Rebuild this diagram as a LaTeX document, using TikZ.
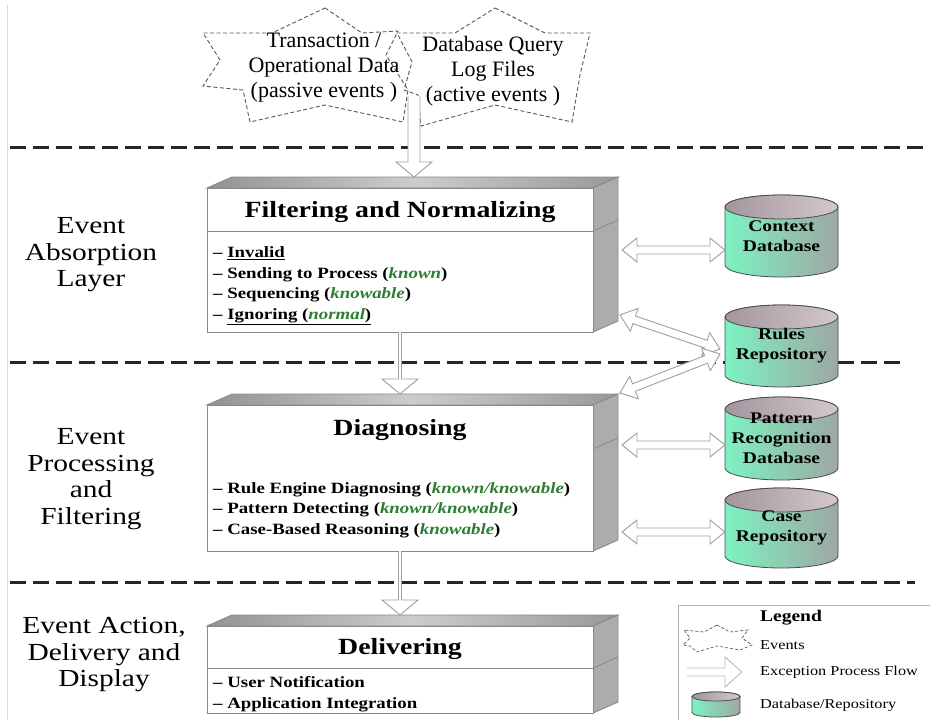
\documentclass[tikz,border=0pt]{standalone}
\usepackage{fontspec}
\setmainfont{Liberation Serif}
\newfontfamily\widefont{Liberation Serif}[FakeStretch=1.2]
\usetikzlibrary{calc,backgrounds}

\definecolor{kgreen}{HTML}{2E7D32}
\definecolor{mint}{HTML}{7EF2C2}
\definecolor{cylgray}{HTML}{9DA7A2}
\definecolor{captop}{HTML}{A4959D}
\definecolor{captop2}{HTML}{D2C8CD}
\definecolor{edgegray}{HTML}{8A8A8A}

\tikzset{
  front/.style={draw=edgegray, fill=white, line width=0.9pt, inner sep=0pt, outer sep=0pt},
  topface/.style={draw=edgegray, line width=0.9pt, left color=gray!85, right color=gray!80, middle color=gray!40},
  sideface/.style={draw=edgegray, line width=0.9pt, fill=gray!65},
  divider/.style={draw=edgegray, line width=0.9pt},
  boxtitle/.style={font=\widefont\bfseries\fontsize{23.2}{26}\selectfont},
  boxitems/.style={font=\widefont\bfseries\fontsize{15.7}{20.5}\selectfont, align=left, anchor=west, inner sep=0pt},
  layer/.style={font=\widefont\fontsize{24.5}{26.5}\selectfont, align=center},
  eventtext/.style={font=\fontsize{22}{25}\selectfont, align=center},
  dbnode/.style={minimum width=113pt, inner sep=0pt, outer sep=0pt, align=center,
    font=\widefont\bfseries\fontsize{16.3}{20}\selectfont},
  dbbody/.style={draw=black!70, line width=0.8pt, left color=mint, right color=cylgray},
  dbcap/.style={draw=black!70, line width=0.8pt, left color=captop, right color=captop2},
  sep/.style={line width=3pt, dash pattern=on 16pt off 7pt, black!85},
  flowline/.style={draw=gray!75, fill=white, line width=0.9pt, line join=miter},
  eventline/.style={draw=gray!70!black, dash pattern=on 4pt off 2.5pt, line width=0.9pt},
  legtext/.style={font=\widefont\fontsize{13.6}{16}\selectfont, anchor=west, inner sep=0pt},
}

% hollow double-headed block arrow between two named points
\newcommand\dflow[2]{%
  \coordinate (ha) at ($(#1)!15pt!(#2)$);
  \coordinate (hb) at ($(#2)!15pt!(#1)$);
  \draw[flowline] (#1) -- ($(ha)!12pt!90:(#2)$) -- ($(ha)!4pt!90:(#2)$)
    -- ($(hb)!4pt!-90:(#1)$) -- ($(hb)!12pt!-90:(#1)$) -- (#2)
    -- ($(hb)!12pt!90:(#1)$) -- ($(hb)!4pt!90:(#1)$)
    -- ($(ha)!4pt!-90:(#2)$) -- ($(ha)!12pt!-90:(#2)$) -- cycle;}

% hollow single block arrow: tail, tip, shaft half width, head half width, head length
\newcommand\sflow[5]{%
  \coordinate (hb) at ($(#2)!#5!(#1)$);
  \draw[flowline] ($(#1)!#3!90:(#2)$) -- ($(hb)!#3!-90:(#1)$) -- ($(hb)!#4!-90:(#1)$)
    -- (#2) -- ($(hb)!#4!90:(#1)$) -- ($(hb)!#3!90:(#1)$) -- ($(#1)!#3!-90:(#2)$);}

% cylinder around a node: name, x radius, y radius (numbers)
\newcommand\dbcyl[3]{%
  \path[dbbody] ($(#1.north west)+(0,#3)$) -- ($(#1.south west)+(0,-#3)$)
    arc[start angle=180, end angle=360, x radius=#2pt, y radius=#3pt]
    -- ($(#1.north east)+(0,#3)$)
    arc[start angle=0, end angle=180, x radius=#2pt, y radius=#3pt] -- cycle;
  \path[dbcap] ($(#1.north)+(0,#3)$) ellipse[x radius=#2pt, y radius=#3pt];}

% 3D faces of a box whose front face is a node
\newcommand\boxfaces[1]{%
  \path[topface] (#1.north west) -- ++(25,-11) -- ($(#1.north east)+(25,-11)$) -- (#1.north east) -- cycle;
  \path[sideface] (#1.north east) -- ++(25,-11) -- ($(#1.south east)+(25,-11)$) -- (#1.south east) -- cycle;}

\begin{document}
\begin{tikzpicture}[x=1pt, y=-1pt]
\useasboundingbox (0,0) rectangle (930,720);

% faint page rule at the left
\draw[gray!30, line width=1pt] (7,5) -- (7,720);

% ---------- events ----------
\draw[eventline] (325,8) -- (362,33) -- (398,31) -- (386,55) -- (408,90) -- (403,122)
  -- (325,105) -- (250,122) -- (243,90) -- (203,86) -- (220,60) -- (203,33) -- (272,33) -- cycle;
\draw[eventline] (495,8) -- (545,33) -- (590,33) -- (580,75) -- (572,122) -- (495,105)
  -- (421,126) -- (418,95) -- (404,90) -- (412,62) -- (397,33) -- (455,33) -- cycle;
\node[eventtext] (ev1) at (324,68) {Transaction /\\Operational Data\\(passive events )};
\node[eventtext] (ev2) at (493,71) {Database Query\\Log Files\\(active events )};

% ---------- layer names ----------
\node[layer] (L1) at (91,255) {Event\\Absorption\\Layer};
\node[layer] (L2) at (91,479) {Event\\Processing\\and\\Filtering};
\node[layer] (L3) at (104,655) {Event Action,\\Delivery and\\Display};

% ---------- process boxes (front faces) ----------
\node[front, minimum width=386pt, minimum height=144pt] (filt) at (400,260) {};
\node[front, minimum width=386pt, minimum height=146pt] (diag) at (400,478) {};
\node[front, minimum width=386pt, minimum height=87pt] (deliv) at (400,669.5) {};

\draw[divider] ($(filt.north west)+(0,43)$) -- ($(filt.north east)+(0,43)$);
\draw[divider] ($(deliv.north west)+(0,42)$) -- ($(deliv.north east)+(0,42)$);

\node[boxtitle] (t1) at (400,212) {Filtering and Normalizing};
\node[boxitems] (i1) at (213,286) {– \underline{Invalid}\\
  – Sending to Process (\textit{\color{kgreen}known})\\
  – Sequencing (\textit{\color{kgreen}knowable})\\
  – \underline{Ignoring (\textit{\color{kgreen}normal})}};

\node[boxtitle] (t2) at (400,430) {Diagnosing};
\node[boxitems] (i2) at (213,510) {– Rule Engine Diagnosing (\textit{\color{kgreen}known/knowable})\\
  – Pattern Detecting (\textit{\color{kgreen}known/knowable})\\
  – Case-Based Reasoning (\textit{\color{kgreen}knowable})};

\node[boxtitle] (t3) at (400,649) {Delivering};
\node[boxitems] (i3) at (213,694) {– User Notification\\
  – Application Integration};

% ---------- repositories ----------
\node[dbnode, minimum height=82pt] (ctx) at (781.5,236) {Context\\Database};
\node[dbnode, minimum height=82pt] (rules) at (781.5,346) {Rules\\Repository};
\node[dbnode, minimum height=83pt] (pat) at (781.5,438.5) {Pattern\\Recognition\\Database};
\node[dbnode, minimum height=80pt] (case) at (781.5,528) {Case\\Repository};

% ---------- legend ----------
\draw[gray!60, line width=1pt] (678,722) -- (678,605) -- (932,605);
\node[font=\widefont\bfseries\fontsize{16.3}{18}\selectfont] (legT) at (791,618) {Legend};
\draw[eventline, line width=0.7pt, dash pattern=on 3pt off 2pt] (717,625) -- (730,632) -- (748,630) -- (742,638)
  -- (752,645) -- (740,650) -- (717,646) -- (697,652) -- (690,646) -- (683,645) -- (690,638)
  -- (684,630) -- (704,632) -- cycle;
\node[legtext] (legE) at (760,645) {Events};
\node[legtext] (legF) at (760,672) {Exception Process Flow};
\node[legtext] (legD) at (760,705) {Database/Repository};
\node[dbnode, minimum width=48pt, minimum height=25pt] (legcyl) at (716,704.5) {};
\coordinate (lfa) at (687,672);
\coordinate (lfb) at (742,672);

% ---------- background: paper, layer separators, box sides, cylinders ----------
\begin{scope}[on background layer]
  \fill[white] (0,0) rectangle (930,720);
  \draw[sep] (10,147) -- (930,147);
  \draw[sep] (10,362) -- (907,362);
  \draw[sep] (10,582) -- (915,582);
  \boxfaces{filt}
  \boxfaces{diag}
  \boxfaces{deliv}
  \draw[divider] ($(filt.north east)+(0,43)$) -- ++(25,-11);
  \draw[divider] ($(diag.north east)+(0,44)$) -- ++(25,-11);
  \draw[divider] ($(deliv.north east)+(0,42)$) -- ++(25,-11);
  \dbcyl{ctx}{56.5}{12}
  \dbcyl{rules}{56.5}{12}
  \dbcyl{pat}{56.5}{12}
  \dbcyl{case}{56.5}{12}
  \dbcyl{legcyl}{24}{4.5}
\end{scope}

% ---------- process flow ----------
\coordinate (evout) at (414,96);
\coordinate (filtin) at ($(filt.north -| evout)+(0,-11)$);
\coordinate (diagin) at ($(diag.north)+(0,-11)$);
\coordinate (delivin) at ($(deliv.north)+(0,-11)$);
\sflow{evout}{filtin}{6pt}{18pt}{15pt}
\sflow{filt.south}{diagin}{1.5pt}{18pt}{15pt}
\sflow{diag.south}{delivin}{1.5pt}{18pt}{15pt}
\begin{scope}[flowline/.append style={draw=gray!55}]
  \sflow{lfa}{lfb}{4pt}{15pt}{17pt}
\end{scope}

% ---------- repository access ----------
\coordinate (c1a) at (622,250);
\coordinate (c1b) at (ctx.west |- c1a);
\dflow{c1a}{c1b}
\coordinate (r1a) at (620,315);
\coordinate (r1b) at (720,349);
\dflow{r1a}{r1b}
\coordinate (r2a) at (720,354);
\coordinate (r2b) at (620,393);
\dflow{r2a}{r2b}
\coordinate (p1a) at (622,445);
\coordinate (p1b) at (pat.west |- p1a);
\dflow{p1a}{p1b}
\coordinate (k1a) at (622,532);
\coordinate (k1b) at (case.west |- k1a);
\dflow{k1a}{k1b}
\end{tikzpicture}
\end{document}
